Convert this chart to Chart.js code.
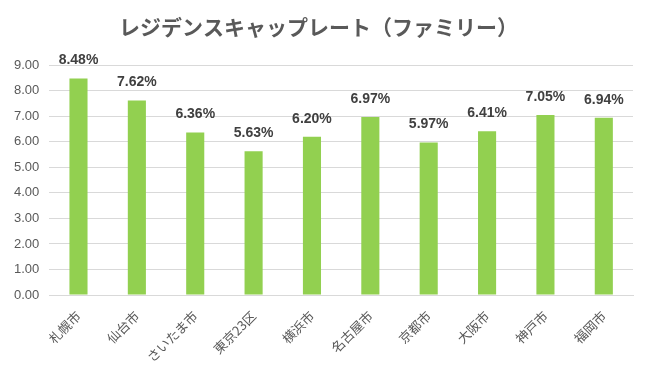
<!DOCTYPE html>
<html>
<head>
<meta charset="utf-8">
<script src="https://cdn.jsdelivr.net/npm/chart.js@4"></script>
<style>
    html, body { margin: 0; padding: 0; background: #fff; }
    #wrap { width: 647px; height: 374px; }
</style>
</head>
<body>
<div id="wrap"><canvas id="capChart"></canvas></div>
<script>
const cities = ['札幌市', '仙台市', 'さいたま市', '東京23区', '横浜市', '名古屋市', '京都市', '大阪市', '神戸市', '福岡市'];
const capRates = [8.48, 7.62, 6.36, 5.63, 6.20, 6.97, 5.97, 6.41, 7.05, 6.94];
const yTicks = [0, 1, 2, 3, 4, 5, 6, 7, 8, 9];

const fontFamily = '"Liberation Sans", "Noto Sans CJK JP", sans-serif';

// bar value labels
const valueLabels = {
    id: 'valueLabels',
    afterDatasetsDraw(chart) {
        const ctx = chart.ctx;
        const meta = chart.getDatasetMeta(0);
        ctx.save();
        ctx.font = 'bold 14px ' + fontFamily;
        ctx.fillStyle = '#404040';
        ctx.textAlign = 'center';
        ctx.textBaseline = 'bottom';
        meta.data.forEach((bar, i) => {
            ctx.fillText(capRates[i].toFixed(2) + '%', bar.x, bar.y - 11);
        });
        ctx.restore();
    }
};

new Chart(document.getElementById('capChart'), {
    type: 'bar',
    data: {
        labels: cities,
        datasets: [{
            data: capRates,
            backgroundColor: '#92d050',
            borderWidth: 0,
            barPercentage: 0.31,
            categoryPercentage: 1
        }]
    },
    options: {
        responsive: true,
        maintainAspectRatio: false,
        animation: false,
        layout: { padding: { left: 4, right: 14, top: 6, bottom: 4 } },
        plugins: {
            legend: { display: false },
            tooltip: { enabled: false },
            title: {
                display: true,
                text: 'レジデンスキャップレート（ファミリー）',
                color: '#595959',
                font: { family: '"Noto Sans CJK JP", sans-serif', size: 21, weight: 'bold' },
                padding: { top: 8, bottom: 26 }
            }
        },
        scales: {
            y: {
                min: 0,
                max: 9,
                afterBuildTicks: (axis) => { axis.ticks = yTicks.map(v => ({ value: v })); },
                border: { display: false },
                grid: { color: '#d9d9d9', drawTicks: false },
                ticks: {
                    color: '#595959',
                    padding: 10,
                    font: { family: fontFamily, size: 13 },
                    callback: (v) => Number(v).toFixed(2)
                }
            },
            x: {
                border: { color: '#d9d9d9' },
                grid: { display: false },
                ticks: {
                    color: '#595959',
                    maxRotation: 45,
                    minRotation: 45,
                    padding: 5,
                    font: { family: '"Noto Sans CJK JP", sans-serif', size: 13 }
                }
            }
        }
    },
    plugins: [valueLabels]
});
</script>
</body>
</html>
